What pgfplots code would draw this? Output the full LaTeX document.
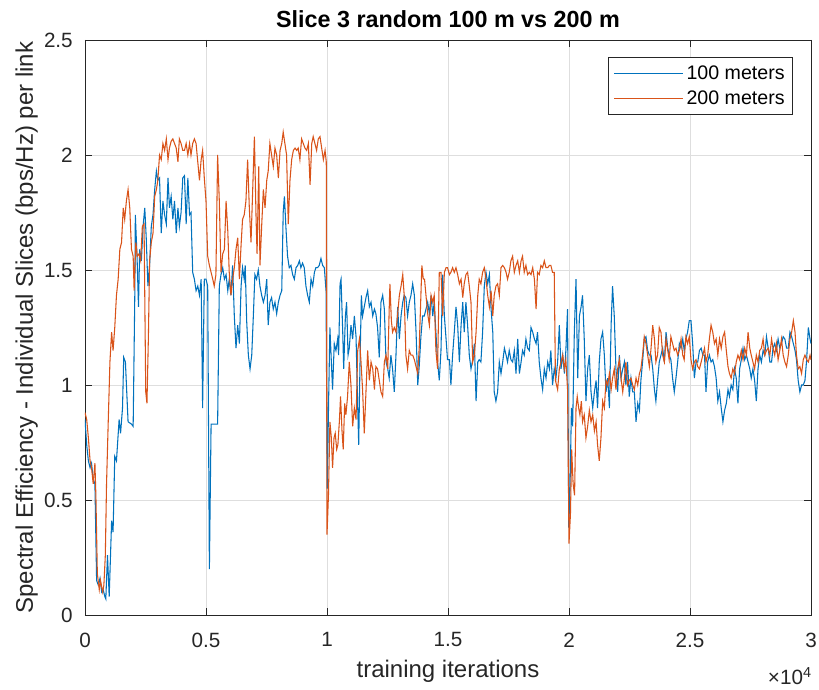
\documentclass[border=0pt]{standalone}
\usepackage{fontspec}
\setmainfont{Liberation Sans}
\usepackage{pgfplots}
\pgfplotsset{compat=1.18}

\definecolor{mblue}{rgb}{0,0.447,0.741}
\definecolor{morange}{rgb}{0.851,0.325,0.098}
\definecolor{axgray}{rgb}{0.15,0.15,0.15}
\definecolor{gridgray}{rgb}{0.87,0.87,0.87}

\begin{document}
\begin{tikzpicture}
\begin{axis}[
  scale only axis,
  width=544.5pt, height=431.25pt,
  xmin=0, xmax=30000, ymin=0, ymax=2.5,
  xtick={0,5000,10000,15000,20000,25000,30000},
  xticklabels={0,0.5,1,1.5,2,2.5,3},
  ytick={0,0.5,1,1.5,2,2.5},
  yticklabels={0,0.5,1,1.5,2,2.5},
  scaled x ticks=false,
  xtick pos=both, ytick pos=both,
  tick align=inside,
  major tick length=5pt,
  tick style={axgray, line width=0.6pt},
  axis line style={axgray, line width=0.6pt},
  grid=major,
  major grid style={gridgray, line width=0.6pt},
  ticklabel style={font=\fontsize{15.5}{18}\selectfont, text=axgray},
  xticklabel style={inner sep=0pt, yshift=-13pt},
  yticklabel style={inner sep=0pt, xshift=-9pt},
  legend cell align=left,
  legend style={at={(rel axis cs:1,1)}, anchor=north east,
    xshift=-13.5pt, yshift=-12.75pt,
    draw=axgray, line width=0.6pt,
    font=\fontsize{14.7}{17}\selectfont,
    inner xsep=4pt, inner ysep=4pt, row sep=3pt},
  legend image code/.code={%
    \draw[#1, line width=0.8pt] (0pt,0pt) -- (49.5pt,0pt);
    \path (0pt,0pt) -- (52pt,0pt);},
]

% 100 m links
\addplot[mblue, line width=0.8pt] table {
x y
0 0.85
70 0.74
140 0.67
210 0.64
270 0.66
340 0.59
410 0.57
480 0.15
550 0.13
620 0.16
690 0.10
750 0.11
820 0.08
860 0.07
930 0.26
1000 0.08
1100 0.41
1160 0.36
1230 0.69
1300 0.67
1410 0.85
1470 0.79
1550 0.90
1600 1.12
1670 1.10
1780 0.84
1920 0.83
1990 0.82
2060 1.41
2080 1.74
2150 1.56
2210 1.34
2260 1.59
2330 1.54
2400 1.69
2470 1.77
2530 1.64
2600 1.43
2670 1.52
2740 1.69
2810 1.74
2880 1.85
2950 1.93
3010 1.89
3080 1.90
3150 1.66
3220 1.80
3290 1.74
3360 1.70
3430 1.90
3490 1.77
3560 1.82
3630 1.72
3700 1.80
3770 1.66
3840 1.77
3900 1.69
3970 1.75
4040 1.90
4110 1.91
4180 1.70
4250 1.90
4320 1.74
4380 1.75
4450 1.49
4520 1.46
4590 1.41
4660 1.43
4730 1.39
4800 1.46
4860 0.90
4930 1.46
5000 1.46
5070 1.43
5140 0.20
5210 0.83
5340 0.83
5480 0.83
5550 1.43
5620 1.48
5690 1.51
5760 1.46
5830 1.48
5900 1.41
5960 1.46
6030 1.39
6100 1.52
6170 1.30
6240 1.16
6310 1.26
6380 1.18
6450 1.43
6510 1.51
6580 1.46
6620 1.52
6680 1.28
6750 1.13
6820 1.07
6890 1.13
6960 1.31
7020 1.48
7090 1.46
7160 1.50
7230 1.43
7300 1.39
7370 1.36
7440 1.39
7510 1.46
7570 1.26
7640 1.36
7710 1.38
7780 1.33
7850 1.36
7920 1.31
7990 1.36
8060 1.39
8130 1.41
8190 1.75
8240 1.82
8300 1.69
8370 1.56
8440 1.51
8510 1.52
8580 1.48
8650 1.46
8720 1.51
8790 1.52
8860 1.54
8920 1.51
8990 1.53
9060 1.51
9130 1.43
9200 1.39
9270 1.36
9340 1.46
9410 1.43
9480 1.49
9540 1.51
9610 1.51
9680 1.52
9750 1.55
9820 1.52
9890 1.51
9960 1.41
10010 0.55
10070 0.95
10120 1.25
10180 1.10
10230 0.98
10300 1.18
10370 1.15
10440 1.20
10480 1.13
10540 1.44
10580 1.46
10650 1.23
10690 1.07
10760 1.30
10810 1.36
10870 1.13
10920 1.16
10990 1.26
11060 1.20
11130 1.30
11200 1.21
11270 0.90
11310 0.74
11360 1.07
11420 1.39
11470 1.30
11540 1.34
11610 1.38
11680 1.41
11750 1.34
11820 1.36
11890 1.30
11960 1.33
12020 1.31
12090 1.25
12160 1.12
12230 1.36
12300 1.39
12370 1.33
12440 1.10
12510 1.07
12570 1.03
12640 1.13
12710 1.07
12780 0.97
12850 1.13
12920 1.34
12990 1.20
13060 1.30
13130 1.36
13190 1.39
13260 1.38
13330 1.30
13400 1.36
13470 1.39
13540 1.44
13610 1.39
13680 1.23
13750 1.00
13810 1.08
13880 1.21
13950 1.30
14020 1.30
14090 1.33
14160 1.36
14230 1.31
14300 1.39
14370 1.30
14430 1.36
14500 1.23
14570 1.10
14640 1.02
14710 1.15
14780 1.48
14850 1.30
14920 1.20
14980 1.11
15060 1.11
15120 1.00
15190 1.13
15260 1.23
15330 1.34
15400 1.26
15470 1.10
15540 1.26
15610 1.36
15670 1.23
15740 1.36
15810 1.26
15880 1.13
15950 1.07
16020 1.11
16090 1.18
16160 0.93
16230 1.10
16290 1.11
16360 1.10
16430 1.23
16500 1.43
16570 1.49
16640 1.44
16710 1.48
16780 1.33
16850 1.23
16910 0.97
16980 0.93
17050 0.97
17120 1.10
17190 1.05
17260 1.10
17330 1.16
17400 1.13
17460 1.10
17530 1.15
17600 1.11
17670 1.10
17740 1.15
17810 1.05
17880 1.20
17950 1.05
18020 1.10
18080 1.15
18150 1.13
18220 1.20
18290 1.16
18360 1.15
18430 1.25
18500 1.23
18570 1.20
18640 1.18
18700 1.23
18770 1.10
18840 1.03
18910 0.98
18980 1.07
19050 1.03
19120 1.10
19190 1.07
19250 1.15
19320 1.00
19390 1.07
19460 1.03
19530 1.10
19600 1.26
19670 1.07
19740 1.13
19810 1.05
19870 1.15
19940 1.33
19990 0.38
20040 0.54
20100 0.90
20150 0.82
20220 1.23
20290 1.46
20360 1.03
20430 1.30
20500 1.34
20560 1.39
20630 1.20
20700 0.93
20770 1.07
20840 1.13
20910 0.97
20980 0.90
21050 0.97
21120 1.02
21180 0.90
21250 1.10
21320 1.20
21390 1.23
21460 1.13
21530 0.97
21600 1.03
21670 0.90
21740 1.26
21800 1.43
21870 1.30
21940 1.07
22010 0.97
22080 1.13
22150 1.03
22220 1.07
22290 1.10
22350 1.00
22420 1.10
22490 0.95
22560 1.03
22630 0.97
22700 0.97
22770 0.84
22840 0.92
22910 0.89
22970 1.02
23040 1.10
23110 1.20
23180 1.21
23250 1.15
23320 1.13
23390 1.13
23460 1.07
23530 0.98
23590 0.93
23660 1.02
23730 1.10
23800 1.13
23870 1.16
23940 1.10
24010 1.23
24080 1.16
24140 1.13
24210 1.11
24280 1.03
24350 0.97
24420 1.03
24490 1.10
24560 1.18
24630 1.16
24700 1.20
24760 1.15
24830 1.20
24900 1.23
24970 1.28
25040 1.28
25110 1.18
25180 1.03
25250 1.10
25320 1.10
25390 1.15
25460 1.16
25530 1.13
25600 1.13
25660 0.97
25730 1.10
25800 1.13
25870 1.10
25940 1.11
26010 1.08
26080 1.03
26150 0.93
26220 0.97
26290 0.90
26360 0.84
26430 0.89
26500 0.92
26570 0.98
26630 0.95
26700 1.00
26770 0.98
26840 1.07
26910 1.03
26980 0.92
27050 1.07
27120 1.11
27190 1.16
27260 1.11
27330 1.13
27400 1.10
27470 1.07
27530 1.03
27600 1.07
27670 1.02
27740 0.93
27810 1.07
27880 1.13
27950 1.10
28020 1.15
28090 1.13
28160 1.21
28230 1.16
28300 1.10
28370 1.10
28430 1.16
28500 1.18
28570 1.15
28640 1.20
28710 1.16
28780 1.18
28850 1.21
28920 1.20
28990 1.16
29060 1.16
29130 1.23
29200 1.21
29270 1.18
29340 1.15
29400 1.11
29470 1.02
29540 0.97
29610 1.00
29680 1.00
29750 1.02
29820 1.11
29890 1.25
29960 1.20
30000 1.18
};
\addlegendentry{100 meters}

% 200 m links
\addplot[morange, line width=0.8pt] table {
x y
0 0.88
70 0.85
140 0.77
210 0.67
270 0.64
340 0.57
410 0.66
450 0.52
510 0.18
590 0.11
640 0.15
730 0.10
780 0.13
840 0.26
890 0.57
960 0.84
1030 1.10
1100 1.23
1160 1.15
1230 1.25
1300 1.39
1370 1.46
1440 1.59
1510 1.62
1580 1.77
1640 1.72
1710 1.80
1780 1.85
1850 1.77
1920 1.59
1990 1.56
2030 1.41
2100 1.62
2160 1.56
2230 1.57
2300 1.54
2370 1.69
2440 1.70
2510 0.97
2560 0.92
2620 1.21
2670 1.54
2740 1.62
2810 1.66
2880 1.82
2950 1.85
3010 1.89
3080 2.00
3150 1.98
3220 2.05
3290 2.02
3360 2.07
3430 1.98
3490 2.03
3560 2.06
3630 2.07
3700 2.05
3770 2.03
3840 1.97
3900 2.07
3970 2.05
4040 2.02
4110 2.02
4180 2.05
4250 2.00
4320 2.05
4380 2.00
4450 2.05
4520 2.07
4590 2.05
4660 1.97
4730 1.89
4800 1.98
4860 2.02
4930 1.90
5000 1.80
5070 1.56
5140 1.52
5210 1.49
5280 1.46
5340 1.43
5410 1.48
5480 2.00
5550 1.80
5620 1.49
5690 1.57
5760 1.59
5830 1.80
5900 1.67
5960 1.49
6030 1.39
6100 1.46
6170 1.51
6240 1.59
6310 1.64
6380 1.46
6450 1.61
6510 1.72
6580 1.74
6650 1.80
6720 1.98
6790 1.77
6860 1.62
6930 1.85
7000 2.08
7070 1.72
7110 1.57
7180 1.95
7230 1.52
7300 1.69
7370 1.85
7440 1.77
7510 1.89
7570 1.93
7640 2.05
7710 2.00
7780 1.95
7850 2.03
7920 2.00
7990 1.90
8060 2.02
8130 2.05
8190 2.10
8260 2.05
8330 2.00
8400 1.70
8470 1.89
8540 1.98
8610 2.02
8680 2.03
8750 2.02
8810 2.03
8880 1.98
8950 2.07
9020 2.05
9090 2.03
9160 2.02
9230 2.05
9300 1.87
9370 2.05
9430 2.08
9500 2.05
9570 2.02
9640 2.07
9710 2.08
9780 2.03
9850 1.98
9920 2.02
9970 1.97
10000 0.35
10060 0.52
10120 0.84
10180 0.77
10230 0.64
10290 0.77
10340 0.79
10400 0.72
10450 0.74
10510 0.84
10560 0.95
10620 0.80
10670 0.72
10730 0.92
10780 0.87
10850 0.95
10920 1.10
10990 1.00
11060 0.82
11130 0.90
11200 0.85
11270 1.15
11340 1.20
11400 1.11
11470 0.98
11540 0.79
11610 0.97
11680 1.15
11750 1.02
11820 1.10
11890 1.07
11960 0.98
12020 1.08
12090 1.07
12160 1.02
12230 0.97
12300 0.95
12370 1.10
12440 1.13
12510 1.07
12570 1.33
12600 1.44
12660 1.28
12710 1.23
12780 1.25
12850 1.23
12920 1.31
12990 1.39
13060 1.43
13130 1.48
13190 1.39
13260 1.13
13330 1.07
13400 1.15
13470 1.13
13540 1.13
13610 1.11
13680 1.08
13750 1.05
13810 1.16
13880 1.39
13920 1.52
13980 1.46
14030 1.46
14090 1.39
14160 1.31
14230 1.26
14300 1.39
14370 1.36
14430 1.39
14500 1.15
14570 1.07
14640 1.49
14710 1.49
14780 1.30
14850 1.49
14920 1.51
14980 1.51
15060 1.48
15120 1.49
15190 1.51
15260 1.49
15330 1.51
15400 1.48
15470 1.44
15540 1.46
15610 1.38
15670 1.44
15740 1.48
15810 1.49
15880 1.43
15950 1.36
16020 1.10
16090 1.13
16160 1.23
16230 1.39
16290 1.46
16360 1.44
16430 1.49
16500 1.51
16570 1.46
16640 1.39
16710 1.34
16780 1.41
16850 1.30
16910 1.39
16980 1.43
17050 1.44
17120 1.39
17190 1.51
17260 1.52
17330 1.51
17400 1.49
17460 1.46
17530 1.49
17600 1.54
17670 1.56
17740 1.49
17810 1.52
17880 1.54
17950 1.49
18020 1.54
18080 1.56
18150 1.49
18220 1.52
18290 1.48
18360 1.49
18430 1.48
18500 1.51
18570 1.46
18640 1.33
18700 1.49
18770 1.48
18840 1.52
18910 1.51
18980 1.54
19050 1.51
19120 1.51
19190 1.52
19250 1.52
19320 1.49
19390 1.49
19440 1.02
19530 0.98
19600 1.07
19670 1.10
19740 1.13
19810 1.07
19870 1.11
19940 0.98
20000 0.31
20060 0.44
20110 0.72
20170 0.57
20230 0.52
20290 0.90
20340 0.95
20400 0.90
20450 0.87
20510 0.93
20560 0.84
20630 0.87
20700 0.77
20770 0.82
20840 0.89
20910 0.84
20980 0.87
21050 0.80
21120 0.84
21180 0.74
21250 0.67
21320 0.77
21390 0.93
21460 0.90
21530 1.02
21600 1.00
21670 1.05
21740 0.98
21800 1.03
21870 1.07
21940 0.98
22010 1.07
22080 1.11
22150 1.03
22220 0.97
22290 1.03
22350 1.10
22420 1.00
22490 1.02
22560 1.03
22630 1.00
22700 0.98
22770 1.03
22840 1.00
22910 1.05
22970 1.07
23040 1.13
23110 1.21
23180 1.18
23250 1.13
23320 1.08
23390 1.16
23460 1.26
23530 1.20
23590 1.10
23660 1.13
23730 1.25
23800 1.23
23870 1.13
23940 1.10
24010 1.20
24080 1.15
24140 1.11
24210 1.21
24280 1.18
24350 1.15
24420 1.16
24490 1.13
24560 1.15
24630 1.20
24700 1.13
24760 1.11
24830 1.21
24900 1.18
24970 1.21
25040 1.11
25110 1.07
25180 1.10
25250 1.11
25320 1.08
25390 1.07
25460 1.10
25530 1.13
25600 1.16
25660 1.10
25730 1.13
25800 1.20
25870 1.26
25940 1.23
26010 1.18
26080 1.20
26150 1.13
26220 1.20
26290 1.16
26360 1.21
26430 1.23
26500 1.15
26570 1.08
26630 1.05
26700 1.03
26770 1.07
26840 1.05
26910 1.10
26980 1.13
27050 1.11
27120 1.15
27190 1.11
27260 1.16
27330 1.13
27400 1.23
27470 1.16
27530 1.13
27600 1.10
27670 1.07
27740 1.13
27810 1.10
27880 1.15
27950 1.16
28020 1.20
28090 1.13
28160 1.15
28230 1.16
28300 1.13
28370 1.20
28430 1.16
28500 1.13
28570 1.18
28640 1.11
28710 1.15
28780 1.20
28850 1.13
28920 1.10
28990 1.08
29060 1.13
29130 1.20
29200 1.23
29270 1.28
29340 1.23
29400 1.13
29470 1.07
29540 1.08
29610 1.05
29680 1.11
29750 1.13
29820 1.11
29890 1.10
29960 1.13
30000 1.11
};
\addlegendentry{200 meters}
\end{axis}

% titles and labels around the axis box
\node[anchor=base, font=\bfseries\fontsize{17.5}{20}\selectfont, text=black]
  at ([yshift=9pt]current axis.north) {Slice 3 random 100 m vs 200 m};
\node[anchor=base, font=\fontsize{18}{21}\selectfont, text=axgray]
  at ([yshift=-47pt]current axis.south) {training iterations};
\node[anchor=base, rotate=90, font=\fontsize{18}{21}\selectfont, text=axgray]
  at ([xshift=-39pt]current axis.west) {Spectral Efficiency - Individual Slices (bps/Hz) per link};
\node[anchor=base east, inner sep=0pt, font=\fontsize{15.5}{18}\selectfont, text=axgray]
  at ([xshift=0.75pt, yshift=-52pt]current axis.south east) {×10\textsuperscript{4}};

\pgfresetboundingbox
\path[use as bounding box]
  ([shift={(-63.75pt,-55.5pt)}]current axis.south west)
  rectangle ([shift={(6pt,30pt)}]current axis.north east);
\end{tikzpicture}
\end{document}
